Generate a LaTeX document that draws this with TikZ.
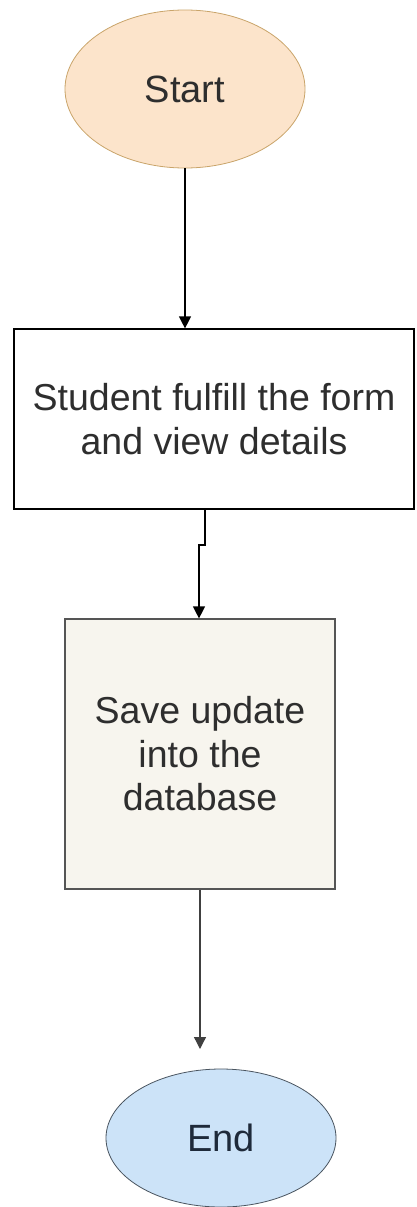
\documentclass[tikz,border=0pt]{standalone}
\usepackage{fontspec}
\setmainfont{Liberation Sans}
\usetikzlibrary{shapes.geometric,arrows.meta}
\definecolor{startfill}{HTML}{FCE4CB}
\definecolor{startdraw}{HTML}{C9A46A}
\definecolor{endfill}{HTML}{CCE3F8}
\definecolor{enddraw}{HTML}{4A5560}
\definecolor{savefill}{HTML}{F7F5EE}
\definecolor{savedraw}{HTML}{555555}
\definecolor{txt}{HTML}{2E2E2E}
\definecolor{endtxt}{HTML}{1E2A3A}
\tikzset{
  x=1pt, y=-1pt,
  term/.style={ellipse, inner sep=0pt, font=\fontsize{38}{44}\selectfont, text=txt, line width=0.8pt},
  proc/.style={rectangle, inner sep=0pt, align=center, font=\fontsize{37.5}{43.5}\selectfont, text=txt, line width=1.2pt},
  conn/.style={line width=1.3pt, -{Triangle[length=12pt,width=12pt]}},
}
\begin{document}
\begin{tikzpicture}
\useasboundingbox (0,0) rectangle (416,1207);
\node[term, fill=startfill, draw=startdraw, minimum width=240pt, minimum height=158pt] (start) at (185,89) {Start};
\node[proc, draw=black, fill=white, minimum width=400pt, minimum height=180pt] (form) at (214,419) {Student fulfill the form\\and view details};
\node[proc, draw=savedraw, fill=savefill, minimum width=270pt, minimum height=270pt] (save) at (200,754) {Save update\\into the\\database};
\node[term, fill=endfill, draw=enddraw, text=endtxt, minimum width=230pt, minimum height=138pt] (end) at (221,1138) {End};
\coordinate (j1) at (205,545);
\coordinate (j2) at (199,545);
\draw[conn] (start.south) -- (start.south |- form.north);
\draw[conn] (form.south -| j1) -- (j1) -- (j2) -- (j2 |- save.north);
\draw[conn, draw=black!75] (save.south) -- (200,1049);
\end{tikzpicture}
\end{document}
